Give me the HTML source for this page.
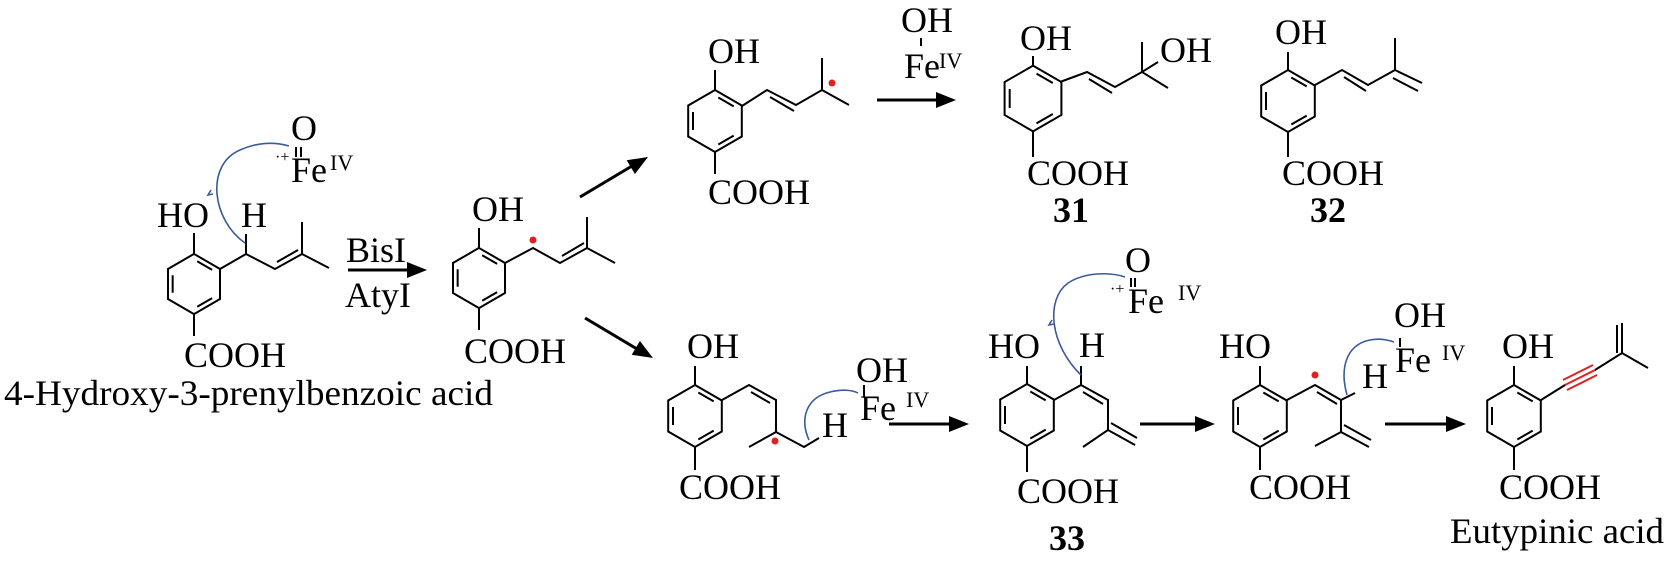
<!DOCTYPE html>
<html><head><meta charset="utf-8"><style>
html,body{margin:0;padding:0;background:#fff;}
svg{display:block}
text{font-family:"Liberation Serif",serif;fill:#000}
</style></head><body>
<svg width="1670" height="568" viewBox="0 0 1670 568" xmlns="http://www.w3.org/2000/svg">
<defs>
<g id="ring">
<polygon points="0,-31 26.8,-15.5 26.8,15.5 0,31 -26.8,15.5 -26.8,-15.5" fill="none" stroke="#000" stroke-width="2" vector-effect="non-scaling-stroke"/>
<line x1="3.3" y1="-23.5" x2="18.7" y2="-14.6" stroke="#000" stroke-width="2" vector-effect="non-scaling-stroke"/>
<line x1="18.7" y1="14.6" x2="3.3" y2="23.5" stroke="#000" stroke-width="2" vector-effect="non-scaling-stroke"/>
<line x1="-22" y1="-9" x2="-22" y2="9" stroke="#000" stroke-width="2" vector-effect="non-scaling-stroke"/>
</g>
</defs>

<g stroke="#000" stroke-width="2" fill="none">
<!-- Mol1 -->
<use href="#ring" transform="translate(194,284) scale(0.97)"/>
<line x1="194" y1="254" x2="194" y2="233"/><line x1="194" y1="314" x2="194" y2="336"/>
<polyline points="220,269 246,254 275,269 302,254 329,268"/>
<line x1="277" y1="262" x2="298" y2="250"/>
<line x1="302" y1="254" x2="302" y2="222"/>
<line x1="246" y1="254" x2="246" y2="234"/>
<line x1="296" y1="147" x2="296" y2="157"/><line x1="301" y1="147" x2="301" y2="157"/>
<!-- BisI arrow -->
<line x1="348" y1="270" x2="410" y2="270" stroke-width="3"/>
<!-- Mol2 -->
<use href="#ring" transform="translate(479,278) scale(0.97)"/>
<line x1="479" y1="248" x2="479" y2="228"/><line x1="479" y1="308" x2="479" y2="330"/>
<polyline points="505,263 533,248 560,263 587,248 615,263"/>
<line x1="562" y1="256" x2="584" y2="243"/>
<line x1="587" y1="248" x2="587" y2="217"/>
<!-- diag arrows -->
<line x1="580" y1="197" x2="632" y2="166" stroke-width="3"/>
<line x1="585" y1="318" x2="637" y2="349" stroke-width="3"/>
<!-- Mol3 -->
<use href="#ring" transform="translate(715,121)"/>
<line x1="715" y1="90" x2="715" y2="70"/><line x1="715" y1="152" x2="715" y2="174"/>
<polyline points="742,106 767,90 796,105 822,90 849,105"/>
<line x1="770" y1="97" x2="794" y2="111"/>
<line x1="822" y1="90" x2="822" y2="58"/>
<line x1="877" y1="100" x2="940" y2="100" stroke-width="3"/>
<line x1="921" y1="38" x2="921" y2="46"/>
<!-- Mol31 -->
<use href="#ring" transform="translate(1033,98.5) scale(1.06)"/>
<line x1="1033" y1="65" x2="1033" y2="56"/><line x1="1033" y1="132" x2="1033" y2="157"/>
<polyline points="1060,82 1087,72 1115,87 1142,72 1168,88"/>
<line x1="1089" y1="79" x2="1112" y2="93"/>
<line x1="1142" y1="72" x2="1142" y2="42"/>
<line x1="1142" y1="72" x2="1158" y2="62"/>
<!-- Mol32 -->
<use href="#ring" transform="translate(1288,101)"/>
<line x1="1288" y1="70" x2="1288" y2="52"/><line x1="1288" y1="132" x2="1288" y2="157"/>
<polyline points="1315,85 1342,70 1368,85 1395,70 1422,83"/>
<line x1="1344" y1="77" x2="1366" y2="91"/>
<line x1="1395" y1="70" x2="1395" y2="38"/>
<line x1="1393" y1="78" x2="1418" y2="91"/>
<!-- Mol5 -->
<use href="#ring" transform="translate(695,416)"/>
<line x1="695" y1="385" x2="695" y2="366"/><line x1="695" y1="447" x2="695" y2="470"/>
<polyline points="722,400 749,385 776,400 776,432 749,447"/>
<line x1="751" y1="392" x2="770" y2="403"/>
<polyline points="776,432 804,447 819,438"/>
<line x1="864" y1="385" x2="864" y2="397"/>
<line x1="889" y1="424" x2="950" y2="424" stroke-width="3"/>
<!-- Mol33 -->
<use href="#ring" transform="translate(1027,415)"/>
<line x1="1027" y1="385" x2="1027" y2="366"/><line x1="1027" y1="446" x2="1027" y2="472"/>
<polyline points="1054,400 1081,385 1108,400 1108,430 1083,447"/>
<line x1="1081" y1="385" x2="1081" y2="366"/>
<line x1="1083" y1="392" x2="1103" y2="404"/>
<line x1="1108" y1="430" x2="1135" y2="445"/>
<line x1="1111" y1="423" x2="1137" y2="438"/>
<line x1="1131" y1="278" x2="1131" y2="287"/><line x1="1135" y1="278" x2="1135" y2="287"/>
<line x1="1140" y1="424" x2="1196" y2="424" stroke-width="3"/>
<!-- Mol6 -->
<use href="#ring" transform="translate(1260,416)"/>
<line x1="1260" y1="385" x2="1260" y2="366"/><line x1="1260" y1="447" x2="1260" y2="470"/>
<polyline points="1287,400 1315,385 1341,400 1341,432 1315,446"/>
<line x1="1341" y1="400" x2="1355" y2="393"/>
<line x1="1317" y1="392" x2="1337" y2="404"/>
<line x1="1341" y1="432" x2="1369" y2="447"/>
<line x1="1344" y1="425" x2="1371" y2="440"/>
<line x1="1400" y1="338" x2="1400" y2="347"/>
<line x1="1385" y1="424" x2="1447" y2="424" stroke-width="3"/>
<!-- Eutypinic -->
<use href="#ring" transform="translate(1514,416)"/>
<line x1="1514" y1="385" x2="1514" y2="366"/><line x1="1514" y1="447" x2="1514" y2="470"/>
<line x1="1541" y1="400" x2="1565" y2="385"/>
<polyline points="1595,370 1622,353 1648,368"/>
<line x1="1622" y1="353" x2="1622" y2="323"/><line x1="1617" y1="353" x2="1617" y2="325"/>
</g>
<g stroke="#e02020" stroke-width="2">
<line x1="1565" y1="385" x2="1595" y2="370"/>
<line x1="1563" y1="380" x2="1593" y2="365"/>
<line x1="1567" y1="390" x2="1597" y2="375"/>
</g>
<!-- arrowheads -->
<g fill="#000">
<polygon points="427,270 407,262 407,278"/>
<polygon points="648,157 634.9,174 626.7,160.2"/>
<polygon points="653,358 631.7,354.8 639.9,341"/>
<polygon points="956,100 936,92 936,108"/>
<polygon points="969,424 949,416 949,432"/>
<polygon points="1215,424 1195,416 1195,432"/>
<polygon points="1466,424 1446,416 1446,432"/>
</g>
<!-- radicals -->
<g fill="#e02020">
<circle cx="533" cy="240" r="3.5"/><circle cx="832" cy="83" r="3.5"/>
<circle cx="775" cy="441" r="3.5"/><circle cx="1315" cy="375" r="3.5"/>
</g>
<!-- blue arcs -->
<g stroke="#3a5a9a" stroke-width="1.6" fill="none">
<path d="M245,243 C212,220 205,165 240,150 C258,142 275,142 289,146"/>
<path d="M809,440 C800,420 805,398 830,392 C842,389 852,390 858,393"/>
<path d="M1081,375 C1050,345 1045,300 1068,283 C1085,272 1110,272 1125,277"/>
<path d="M1347,395 C1340,370 1345,345 1370,340 C1380,338 1388,340 1394,342"/>
<path d="M211,190 l-3,5 l5,-1"/><path d="M1052,320 l-3,5 l5,-1"/>
</g>

<g font-size="36">
<text x="157" y="227">HO</text><text x="241" y="227">H</text>
<text x="184" y="367">COOH</text>
<text x="291" y="140">O</text>
<text x="291" y="182">Fe</text><text x="330" y="170" font-size="22">IV</text>
<text x="275" y="162" font-size="16">·+</text>
<text x="346" y="262">BisI</text><text x="345" y="307">AtyI</text>
<text x="4" y="405" textLength="489" lengthAdjust="spacingAndGlyphs">4-Hydroxy-3-prenylbenzoic acid</text>
<text x="472" y="221">OH</text><text x="464" y="363">COOH</text>
<text x="708" y="63">OH</text><text x="708" y="204">COOH</text>
<text x="901" y="32">OH</text><text x="904" y="78">Fe</text><text x="939" y="68" font-size="22">IV</text>
<text x="1020" y="50">OH</text><text x="1160" y="62">OH</text><text x="1027" y="185">COOH</text>
<text x="1053" y="222" font-weight="bold">31</text>
<text x="1275" y="44">OH</text><text x="1282" y="185">COOH</text>
<text x="1310" y="222" font-weight="bold">32</text>
<text x="687" y="358">OH</text><text x="679" y="499">COOH</text>
<text x="822" y="437">H</text>
<text x="856" y="382">OH</text><text x="860" y="420">Fe</text><text x="906" y="407" font-size="22">IV</text>
<text x="988" y="358">HO</text><text x="1079" y="357">H</text>
<text x="1017" y="503">COOH</text><text x="1049" y="550" font-weight="bold">33</text>
<text x="1125" y="272">O</text><text x="1110" y="294" font-size="16">·+</text>
<text x="1128" y="313">Fe</text><text x="1178" y="300" font-size="22">IV</text>
<text x="1219" y="358">HO</text><text x="1362" y="388">H</text>
<text x="1249" y="499">COOH</text>
<text x="1394" y="327">OH</text><text x="1395" y="372">Fe</text><text x="1442" y="360" font-size="22">IV</text>
<text x="1502" y="358">OH</text><text x="1499" y="499">COOH</text>
<text x="1450" y="543" textLength="214" lengthAdjust="spacingAndGlyphs">Eutypinic acid</text>
</g>
</svg>
</body></html>
